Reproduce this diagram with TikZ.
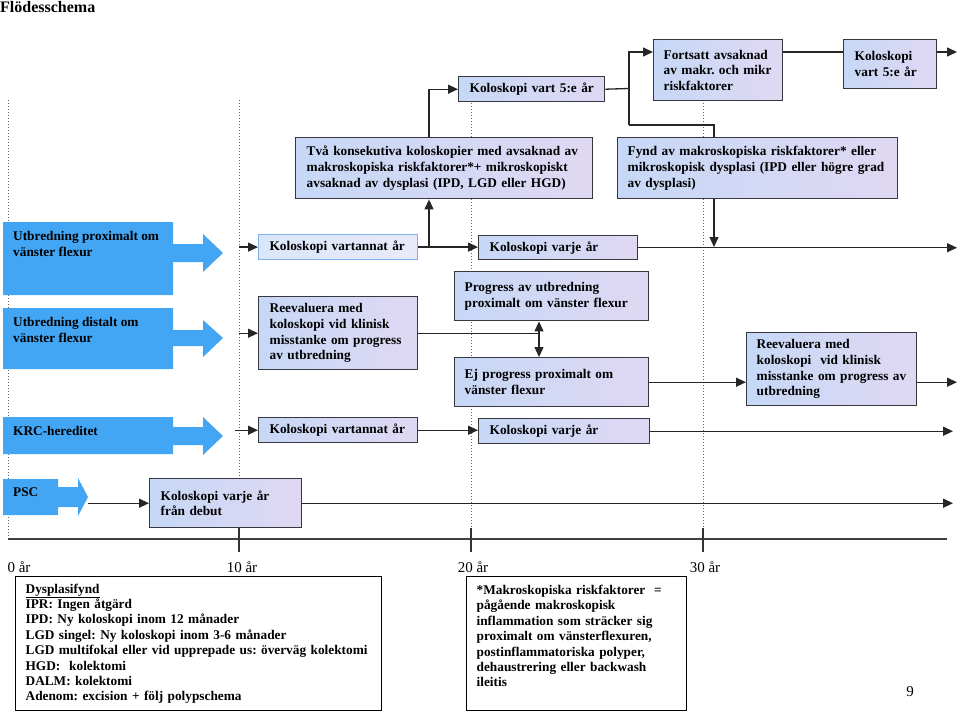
\documentclass[tikz,border=0pt]{standalone}
\usepackage{fontspec}
\setmainfont{Liberation Serif}
\usepackage{xcolor}
\usetikzlibrary{arrows.meta,positioning,calc}
\definecolor{flowblue}{RGB}{66,166,245}
\definecolor{tissueA}{RGB}{198,216,246}
\definecolor{tissueB}{RGB}{224,216,243}
\definecolor{paleA}{RGB}{218,230,250}
\definecolor{paleB}{RGB}{232,234,250}
\definecolor{boxline}{RGB}{55,55,65}
\definecolor{lightline}{RGB}{125,178,235}
\newcommand{\boxfont}{\frenchspacing\bfseries\fontsize{13.3}{15.7}\selectfont}
\newcommand{\notefont}{\frenchspacing\bfseries\fontsize{13.3}{15.4}\selectfont}
\newcommand{\axisfont}{\fontsize{15}{17}\selectfont}

\begin{document}
\begin{tikzpicture}[x=1pt,y=-1pt]
\tikzset{
  bx/.style={draw=boxline,line width=1.4pt,left color=tissueA,right color=tissueB,anchor=north west,align=left,inner xsep=11pt,inner ysep=0pt,font=\boxfont},
  bxpale/.style={bx,draw=lightline,line width=1.2pt,left color=paleA,right color=paleB},
  note/.style={draw=black,line width=1.3pt,fill=white,anchor=north west,align=left,inner xsep=10pt,inner ysep=0pt,font=\notefont},
  ar/.style={-{Triangle[length=10pt,width=9pt]},line width=1.3pt,draw=black!85},
  ln/.style={line width=1.3pt,draw=black!85},
  guide/.style={dotted,line width=1pt,draw=black!60},
  lab/.style={anchor=north west,align=left,inner sep=0pt,font=\boxfont},
  yr/.style={anchor=base,inner sep=0pt,font=\axisfont}
}
\useasboundingbox (0,0) rectangle (960,713);
\node[anchor=base west,inner sep=0pt,font=\bfseries\fontsize{16}{18}\selectfont] (title) at (0,12) {Flödesschema};
% time guides
\foreach \gx in {8,239,471,703}
  \draw[guide] (\gx,100) -- (\gx,539);
\coordinate (d10) at (239,0);
\coordinate (rim) at (957,0);
\coordinate (rimb) at (953,0);
% patient groups
\fill[flowblue] (3,222) -- (173,222) -- (173,244) -- (203,244) -- (203,234) -- (223,253) -- (203,272) -- (203,262) -- (173,262) -- (173,295) -- (3,295) -- cycle;
\fill[flowblue] (3,308) -- (173,308) -- (173,330) -- (203,330) -- (203,320) -- (223,338) -- (203,357) -- (203,346) -- (173,346) -- (173,369) -- (3,369) -- cycle;
\fill[flowblue] (3,417) -- (173,417) -- (173,427) -- (203,427) -- (203,417) -- (223,436) -- (203,455) -- (203,445) -- (173,445) -- (173,454) -- (3,454) -- cycle;
\fill[flowblue] (3,479) -- (58,479) -- (58,487) -- (78,487) -- (78,478) -- (88,497) -- (78,516) -- (78,507) -- (58,507) -- (58,515) -- (3,515) -- cycle;
\node[lab] (prox) at (13,231.5) {Utbredning proximalt om\\vänster flexur};
\node[lab] (dist) at (13,317.5) {Utbredning distalt om\\vänster flexur};
\node[lab] (krc) at (13,426.5) {KRC-hereditet};
\node[lab] (psc) at (13,487.5) {PSC};
\coordinate (psctip) at (88,497);
% boxes
\node[bx,text width=124pt,minimum height=25pt] (k5a) at (458,76) {\mbox{Koloskopi vart 5:e år}};
\node[bx,inner xsep=10pt,text width=109pt,minimum height=61pt] (fort) at (653,39) {Fortsatt avsaknad\\av makr. och mikr\\riskfaktorer};
\node[bx,text width=71pt,minimum height=49pt] (k5b) at (843,39) {Koloskopi\\vart 5:e år};
\node[bx,text width=275pt,minimum height=61pt] (tva) at (295,137) {Två konsekutiva koloskopier med avsaknad av\\makroskopiska riskfaktorer*+ mikroskopiskt\\avsaknad av dysplasi (IPD, LGD eller HGD)};
\node[bx,inner xsep=10pt,text width=260pt,minimum height=61pt] (fynd) at (617,137) {Fynd av makroskopiska riskfaktorer* eller\\mikroskopisk dysplasi (IPD eller högre grad\\av dysplasi)};
\node[bxpale,text width=137pt,minimum height=25pt] (kva1) at (258,234) {Koloskopi vartannat år};
\node[bx,text width=137pt,minimum height=24pt] (kvj1) at (478,235) {Koloskopi varje år};
\node[bx,text width=137pt,minimum height=73pt] (reev1) at (258,296) {Reevaluera med\\koloskopi vid klinisk\\misstanke om progress\\av utbredning};
\node[bx,inner xsep=10pt,text width=174pt,minimum height=49pt] (prog) at (454,271) {Progress av utbredning\\proximalt om vänster flexur};
\node[bx,inner xsep=10pt,text width=174pt,minimum height=49pt] (ejprog) at (454,357) {Ej progress proximalt om\\vänster flexur};
\node[bx,inner xsep=10pt,text width=150pt,minimum height=73pt] (reev2) at (746,332) {Reevaluera med\\koloskopi\ \ vid klinisk\\misstanke om progress av\\utbredning};
\node[bx,text width=137pt,minimum height=25pt] (kva2) at (258,417) {Koloskopi vartannat år};
\node[bx,text width=149pt,minimum height=25pt] (kvj2) at (478,418) {Koloskopi varje år};
\node[bx,text width=130pt,minimum height=49pt] (kpsc) at (149,478) {Koloskopi varje år\\från debut};
% connectors, upper part
\coordinate (j1) at (429,247);
\coordinate (j2) at (629,88.5);
\coordinate (j3) at (629,125);
\coordinate (j4) at (714,247);
\draw[ar] (kva1.west -| d10) -- (kva1.west);
\draw[ar] (kva1.east) -- (kva1.east -| kvj1.west);
\draw[ar] (j1) -- (j1 |- tva.south);
\draw[ar] (j1 |- tva.north) |- (k5a.west);
\draw[ln] (k5a.east) -- (j2);
\draw[ar] (j3) -- (j2) |- ([yshift=-13pt]fort.north west);
\draw[ln] (j4 |- fynd.north) |- (j3);
\draw[ln] ([yshift=-13pt]fort.north east) -- ([yshift=-13pt]k5b.north west);
\coordinate (e1) at (957,52);
\draw[ar] ([yshift=-13pt]k5b.north east) -- (e1);
\draw[ar] (j4 |- fynd.south) -- (j4);
\draw[ar] (kvj1.east) -- (kvj1.east -| rim);
% connectors, distal row
\coordinate (j5) at (539,332.5);
\draw[ar] (reev1.west -| d10) -- (reev1.west);
\draw[ln] (reev1.east) -- (reev1.east -| j5);
\draw[ar] (reev1.east -| j5) -- (j5 |- prog.south);
\draw[ar] (reev1.east -| j5) -- (j5 |- ejprog.north);
\draw[ar] (ejprog.east) -- (ejprog.east -| reev2.west);
\draw[ar] (reev2.east |- ejprog.east) -- (ejprog.east -| rim);
% connectors, KRC and PSC
\draw[ar] (kva2.west -| d10) ++(-4,0) -- (kva2.west);
\draw[ar] (kva2.east) -- (kva2.east -| kvj2.west);
\draw[ar] (kvj2.east) -- (kvj2.east -| rimb);
\draw[ar] (kpsc.west -| psctip) -- (kpsc.west);
\draw[ar] (kpsc.east) -- (kpsc.east -| rimb);
% time axis
\draw[line width=1.5pt,draw=black!75] (8,539) -- (947,539);
\foreach \tx in {239,471,703}
  \draw[line width=1.3pt,draw=black!80] (\tx,528) -- (\tx,552);
\node[yr] (y0) at (19,572) {0 år};
\node[yr] (y10) at (242,572) {10 år};
\node[yr] (y20) at (473,572) {20 år};
\node[yr] (y30) at (705,572) {30 år};
% notes
\node[note,text width=346pt,minimum height=134pt] (dysp) at (15,576) {\underline{Dysplasifynd}\\IPR: Ingen åtgärd\\IPD: Ny koloskopi inom 12 månader\\LGD singel: Ny koloskopi inom 3-6 månader\\LGD multifokal eller vid upprepade us: överväg kolektomi\\HGD:\ \ kolektomi\\DALM: kolektomi\\Adenom: excision + följ polypschema};
\node[note,text width=200pt,minimum height=134pt] (makro) at (466,576) {*Makroskopiska riskfaktorer\ \ =\\pågående makroskopisk\\inflammation som sträcker sig\\proximalt om vänsterflexuren,\\postinflammatoriska polyper,\\dehaustrering eller backwash\\ileitis\\\mbox{}};
\node[anchor=base,inner sep=0pt,font=\fontsize{15}{17}\selectfont] (page) at (910,696) {9};
\end{tikzpicture}
\end{document}
